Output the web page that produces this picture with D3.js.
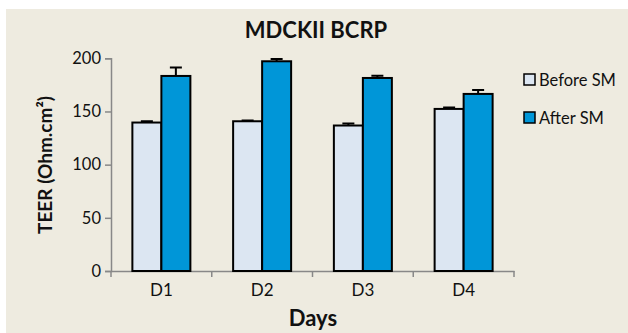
<!DOCTYPE html>
<html>
<head>
<meta charset="utf-8">
<script src="https://cdn.jsdelivr.net/npm/d3@7"></script>
<style>
  html, body { margin: 0; padding: 0; background: #fff; }
  svg { display: block; font-family: Lato, "Open Sans", sans-serif; }
</style>
</head>
<body>
<script>
const days = ['D1', 'D2', 'D3', 'D4'];
const seriesNames = ['Before SM', 'After SM'];
const beforeValues = [139.6, 140.8, 136.8, 152.4];
const afterValues = [183.4, 197.2, 181.5, 166.5];
const beforeErrors = [1.2, 0.8, 1.8, 1.3];
const afterErrors = [8, 2.2, 2.2, 3.7];
const yTicks = [0, 50, 100, 150, 200];

const width = 628, height = 333;
const colors = ['#dce6f2', '#0096d8'];

const svg = d3.select('body').append('svg')
    .attr('width', width)
    .attr('height', height);

// beige chart panel
svg.append('rect')
    .attr('x', 6).attr('y', 9)
    .attr('width', width - 6).attr('height', height - 9)
    .attr('fill', '#eeebe0');

const x = d3.scaleBand().domain(days).range([111, 514]);
const x1 = d3.scaleBand().domain(seriesNames).range([x.bandwidth() / 2 - 29, x.bandwidth() / 2 + 29]);
const y = d3.scaleLinear().domain([0, 200]).range([271, 58.3]);

const rows = days.map((d, i) => ({
    day: d,
    vals: [
        { name: seriesNames[0], v: beforeValues[i], e: beforeErrors[i], c: colors[0] },
        { name: seriesNames[1], v: afterValues[i], e: afterErrors[i], c: colors[1] }
    ]
}));

// y axis
const yAxis = svg.append('g')
    .attr('transform', 'translate(111,0)')
    .call(d3.axisLeft(y).tickValues(yTicks).tickSize(6).tickPadding(4));
yAxis.select('.domain').attr('stroke', '#888').attr('stroke-width', 1.5);
yAxis.selectAll('.tick line').attr('stroke', '#888').attr('stroke-width', 1.5);
yAxis.selectAll('text').attr('font-size', 16.5).attr('fill', '#111')
    .attr('font-family', 'Lato, sans-serif');

// x axis
const xAxis = svg.append('g')
    .attr('transform', 'translate(0,271)')
    .call(d3.axisBottom(x).tickSize(0).tickPadding(13));
xAxis.select('.domain').attr('stroke', '#888').attr('stroke-width', 1.5);
xAxis.selectAll('text').attr('font-size', 17).attr('fill', '#111')
    .attr('font-family', 'Lato, sans-serif');
xAxis.selectAll('.sep')
    .data(d3.range(days.length + 1))
    .enter().append('line')
    .attr('x1', i => 111 + i * x.step())
    .attr('x2', i => 111 + i * x.step())
    .attr('y1', 0).attr('y2', 6)
    .attr('stroke', '#888').attr('stroke-width', 1.5);

const groups = svg.append('g').selectAll('g')
    .data(rows).enter().append('g')
    .attr('transform', d => `translate(${x(d.day)},0)`);

// error bars (upper half only)
groups.selectAll('.err')
    .data(d => d.vals).enter().append('path')
    .attr('class', 'err')
    .attr('fill', 'none').attr('stroke', '#000').attr('stroke-width', 2)
    .attr('d', d => {
        const cx = x1(d.name) + x1.bandwidth() / 2;
        const top = y(d.v + d.e);
        return `M${cx},${y(d.v)}V${top}M${cx - 6},${top}H${cx + 6}`;
    });

groups.selectAll('rect')
    .data(d => d.vals).enter().append('rect')
    .attr('x', d => x1(d.name))
    .attr('y', d => y(d.v))
    .attr('width', x1.bandwidth())
    .attr('height', d => y(0) - y(d.v))
    .attr('fill', d => d.c)
    .attr('stroke', '#000').attr('stroke-width', 2);

// title
svg.append('text')
    .attr('x', 316).attr('y', 38)
    .attr('text-anchor', 'middle')
    .attr('font-size', 22).attr('font-weight', 'bold').attr('fill', '#111')
    .text('MDCKII BCRP');

// axis titles
svg.append('text')
    .attr('transform', 'translate(52,165) rotate(-90)')
    .attr('text-anchor', 'middle')
    .attr('font-size', 19).attr('font-weight', 'bold').attr('fill', '#111')
    .text('TEER (Ohm.cm²)');

svg.append('text')
    .attr('x', 313).attr('y', 326)
    .attr('text-anchor', 'middle')
    .attr('font-size', 22).attr('font-weight', 'bold').attr('fill', '#111')
    .text('Days');

// legend
const legend = svg.append('g').selectAll('g')
    .data(seriesNames).enter().append('g')
    .attr('transform', (d, i) => `translate(524,${74 + i * 38})`);
legend.append('rect')
    .attr('width', 11).attr('height', 11)
    .attr('fill', (d, i) => colors[i])
    .attr('stroke', '#000').attr('stroke-width', 1.5);
legend.append('text')
    .attr('x', 15).attr('y', 11.5)
    .attr('font-size', 16.5).attr('fill', '#111')
    .text(d => d);
</script>
</body>
</html>
